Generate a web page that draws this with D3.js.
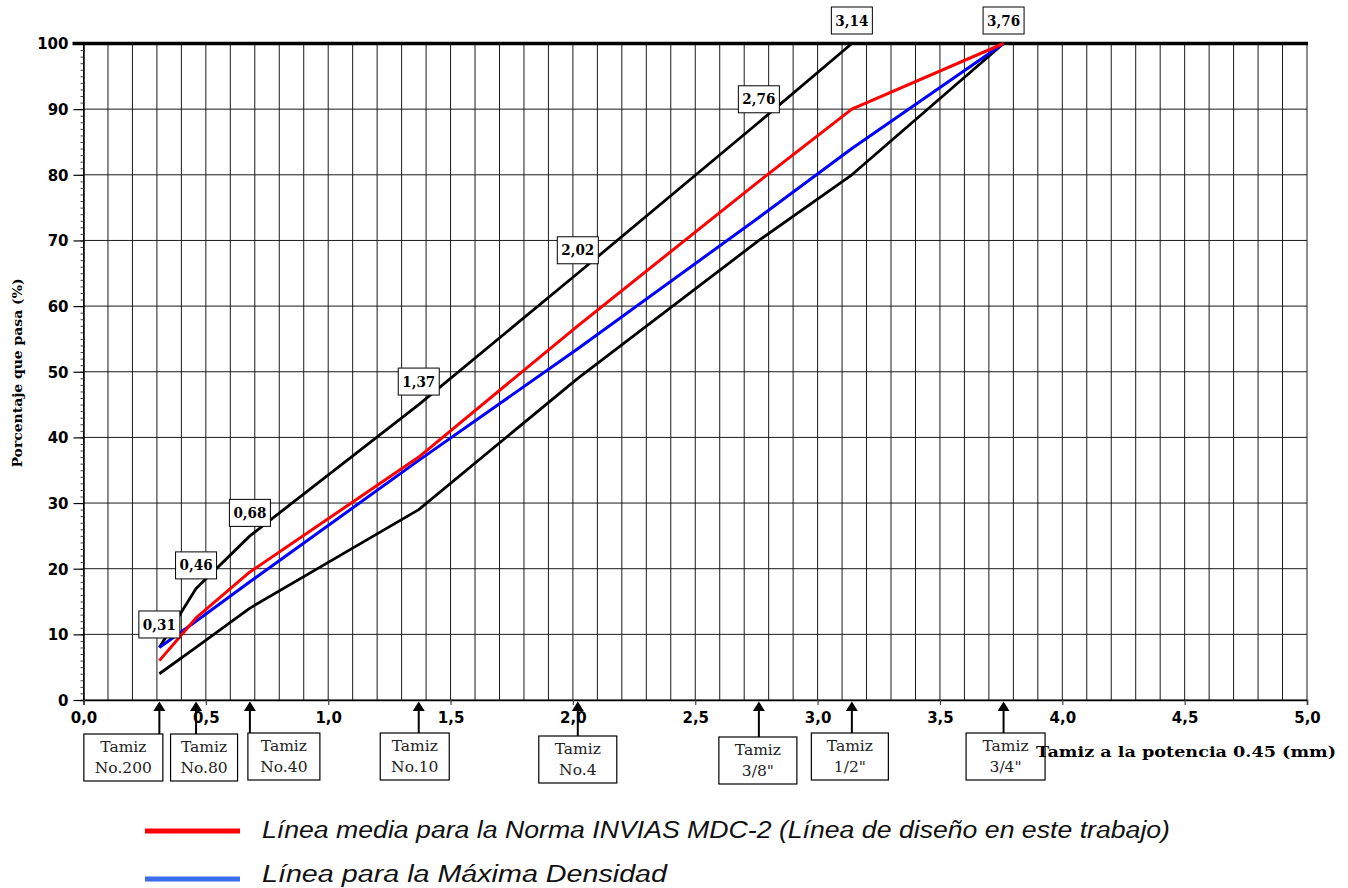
<!DOCTYPE html>
<html>
<head>
<meta charset="utf-8">
<script src="https://cdn.jsdelivr.net/npm/d3@7"></script>
<style>
  html, body { margin: 0; padding: 0; background: #fff; }
  svg { display: block; }
</style>
</head>
<body>
<div id="chart"></div>
<script>
// sieve positions (tamiz ^ 0.45) and the four gradation curves
const sieveNames = ["No.200", "No.80", "No.40", "No.10", "No.4", '3/8"', '1/2"', '3/4"'];
const sieveX = [0.31, 0.46, 0.68, 1.37, 2.02, 2.76, 3.14, 3.76];
const sieveLabels = ["0,31", "0,46", "0,68", "1,37", "2,02", "2,76", "3,14", "3,76"];
const upperLimit = [8, 17, 25, 45, 65, 88, 100, 100];
const lowerLimit = [4, 8, 14, 29, 49, 70, 80, 100];
const designLine = [6, 12.5, 19.5, 37, 57, 79, 90, 100];
const maxDensity = [8, 12, 18, 36.5, 53.5, 73.5, 84, 100];

const xTickValues = [0, 0.5, 1, 1.5, 2, 2.5, 3, 3.5, 4, 4.5, 5];
const xTickLabels = ["0,0", "0,5", "1,0", "1,5", "2,0", "2,5", "3,0", "3,5", "4,0", "4,5", "5,0"];
const yTickValues = [0, 10, 20, 30, 40, 50, 60, 70, 80, 90, 100];
const yTickLabels = ["0", "10", "20", "30", "40", "50", "60", "70", "80", "90", "100"];

const legendLabels = [
    "Línea media para la Norma INVIAS MDC-2 (Línea de diseño en este trabajo)",
    "Línea para la Máxima Densidad"
];

// layout of the "Tamiz" boxes under the axis (center offset from arrow, width, top)
const boxLayout = [
    {dx: -36, w: 79, top: 734},
    {dx: 8, w: 67, top: 734},
    {dx: 34, w: 72, top: 733},
    {dx: -4, w: 69, top: 733},
    {dx: 0, w: 78, top: 736},
    {dx: -1, w: 78, top: 737},
    {dx: -2, w: 77, top: 733},
    {dx: 2, w: 79, top: 733}
];

const width = 1348;
const height = 888;
const margin = {left: 83.5, right: 1307, top: 43.5, bottom: 700};

const svg = d3.select("#chart").append("svg")
    .attr("width", width)
    .attr("height", height);

const x = d3.scaleLinear().domain([0, 5]).range([margin.left, margin.right]);
const y = d3.scaleLinear().domain([0, 100]).range([margin.bottom, margin.top]);

const serif = "'DejaVu Serif', serif";
const sans = "'DejaVu Sans', sans-serif";

// grid
const grid = svg.append("g");
grid.selectAll(".vgrid")
    .data(x.ticks(50))
    .enter()
    .append("line")
    .attr("x1", d => x(d)).attr("x2", d => x(d))
    .attr("y1", y(100)).attr("y2", y(0))
    .attr("stroke", "#1a1a1a")
    .attr("stroke-width", 1);

grid.selectAll(".hgrid")
    .data(yTickValues)
    .enter()
    .append("line")
    .attr("x1", x(0)).attr("x2", x(5))
    .attr("y1", d => y(d)).attr("y2", d => y(d))
    .attr("stroke", "#1a1a1a")
    .attr("stroke-width", 1);

// left axis with minor ticks
const yAxis = svg.append("g")
    .attr("transform", `translate(${x(0)},0)`)
    .call(d3.axisLeft(y).tickValues(d3.range(0, 101, 1)).tickSize(3).tickFormat(""));
yAxis.select(".domain").attr("stroke", "#000").attr("stroke-width", 1.5);
yAxis.selectAll(".tick line").attr("stroke", "#444");

const yMajor = svg.append("g")
    .attr("transform", `translate(${x(0)},0)`)
    .call(d3.axisLeft(y).tickValues(yTickValues).tickSize(10)
        .tickFormat((d, i) => yTickLabels[i]));
yMajor.select(".domain").remove();
yMajor.selectAll(".tick line").attr("stroke", "#000").attr("stroke-width", 1.2);
yMajor.selectAll(".tick text")
    .attr("x", -15)
    .attr("dy", "0.36em")
    .style("font-family", sans)
    .style("font-weight", "bold")
    .style("font-size", "15px")
    .attr("fill", "#000");

// bottom axis
const xAxis = svg.append("g")
    .attr("transform", `translate(0,${y(0)})`)
    .call(d3.axisBottom(x).tickValues(xTickValues).tickSize(5)
        .tickFormat((d, i) => xTickLabels[i]));
xAxis.select(".domain").attr("stroke", "#000").attr("stroke-width", 1.5);
xAxis.selectAll(".tick line").attr("stroke", "#444").attr("stroke-width", 1.2);
xAxis.selectAll(".tick text")
    .attr("y", 12)
    .attr("dy", "0.71em")
    .style("font-family", sans)
    .style("font-weight", "bold")
    .style("font-size", "15px")
    .attr("fill", "#000");

// thick top line at 100 %
svg.append("line")
    .attr("x1", x(0) - 11).attr("x2", x(5) + 1)
    .attr("y1", y(100)).attr("y2", y(100))
    .attr("stroke", "#000")
    .attr("stroke-width", 3.5);

// curves
const line = d3.line()
    .x((d, i) => x(sieveX[i]))
    .y(d => y(d));

const curves = [
    {values: lowerLimit, color: "#000", w: 2.8},
    {values: upperLimit, color: "#000", w: 2.8},
    {values: maxDensity, color: "#0000ff", w: 3},
    {values: designLine, color: "#ff0000", w: 3}
];

svg.selectAll(".curve")
    .data(curves)
    .enter()
    .append("path")
    .attr("d", d => line(d.values))
    .attr("fill", "none")
    .attr("stroke", d => d.color)
    .attr("stroke-width", d => d.w)
    .attr("stroke-linejoin", "round");

// value labels over the upper curve
const valueBoxes = svg.append("g");
sieveX.forEach((sx, i) => {
    const cx = x(sx);
    const cy = y(upperLimit[i]) - 23;
    const g = valueBoxes.append("g").attr("transform", `translate(${cx},${cy})`);
    g.append("rect")
        .attr("x", -20.5).attr("y", -13.5)
        .attr("width", 41).attr("height", 27)
        .attr("fill", "#fff")
        .attr("stroke", "#000")
        .attr("stroke-width", 1);
    g.append("text")
        .attr("text-anchor", "middle")
        .attr("dy", "0.36em")
        .attr("textLength", 33)
        .attr("lengthAdjust", "spacingAndGlyphs")
        .style("font-family", serif)
        .style("font-weight", "bold")
        .style("font-size", "14px")
        .text(sieveLabels[i]);
});

// Tamiz boxes with arrows
const tamiz = svg.append("g");
sieveX.forEach((sx, i) => {
    const ax = x(sx);
    const b = boxLayout[i];
    const left = ax + b.dx - b.w / 2;
    tamiz.append("line")
        .attr("x1", ax).attr("x2", ax)
        .attr("y1", b.top).attr("y2", y(0) + 10)
        .attr("stroke", "#000")
        .attr("stroke-width", 2);
    tamiz.append("path")
        .attr("d", `M${ax},${y(0) + 1.5} L${ax - 6},${y(0) + 11} L${ax + 6},${y(0) + 11} Z`)
        .attr("fill", "#000");
    tamiz.append("rect")
        .attr("x", left).attr("y", b.top)
        .attr("width", b.w).attr("height", 47)
        .attr("fill", "#fff")
        .attr("stroke", "#000")
        .attr("stroke-width", 1.2);
    tamiz.append("text")
        .attr("x", left + b.w / 2).attr("y", b.top + 18)
        .attr("text-anchor", "middle")
        .style("font-family", serif)
        .style("font-size", "15.5px")
        .attr("fill", "#222")
        .text("Tamiz");
    tamiz.append("text")
        .attr("x", left + b.w / 2).attr("y", b.top + 39)
        .attr("text-anchor", "middle")
        .style("font-family", serif)
        .style("font-size", "15.5px")
        .attr("fill", "#222")
        .text(sieveNames[i]);
});

// axis titles
svg.append("text")
    .attr("x", 1036).attr("y", 757)
    .attr("textLength", 300)
    .attr("lengthAdjust", "spacingAndGlyphs")
    .style("font-family", serif)
    .style("font-weight", "bold")
    .style("font-size", "14.5px")
    .text("Tamiz a la potencia 0.45 (mm)");

svg.append("text")
    .attr("transform", "translate(22,373) rotate(-90)")
    .attr("text-anchor", "middle")
    .attr("textLength", 189)
    .attr("lengthAdjust", "spacingAndGlyphs")
    .style("font-family", serif)
    .style("font-weight", "bold")
    .style("font-size", "13.5px")
    .text("Porcentaje que pasa (%)");

// legend
const legendColors = ["#ff0000", "#3a6cf0"];
const legendY = [831, 879];
const legendBase = [838, 882];
const legendWidths = [908, 405];
const legend = svg.append("g");
legendLabels.forEach((label, i) => {
    legend.append("line")
        .attr("x1", 145).attr("x2", 240)
        .attr("y1", legendY[i]).attr("y2", legendY[i])
        .attr("stroke", legendColors[i])
        .attr("stroke-width", 5);
    legend.append("text")
        .attr("x", 262).attr("y", legendBase[i])
        .attr("textLength", legendWidths[i])
        .attr("lengthAdjust", "spacingAndGlyphs")
        .style("font-family", "'Liberation Sans', Arial, sans-serif")
        .style("font-style", "italic")
        .style("font-size", "23px")
        .attr("fill", "#111")
        .text(label);
});
</script>
</body>
</html>
